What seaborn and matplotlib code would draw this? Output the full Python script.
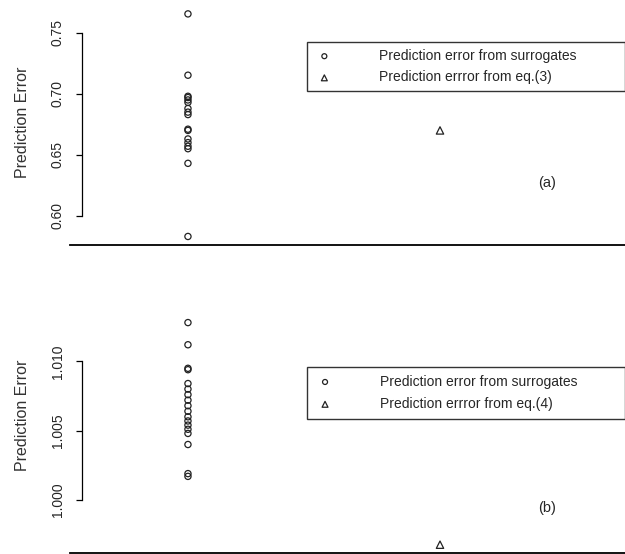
import matplotlib
matplotlib.use("Agg")
import matplotlib.pyplot as plt
import numpy as np
import pandas as pd
import seaborn as sns

# panel (a): prediction errors from surrogates and from eq.(3)
surr_a = [0.7656, 0.7153, 0.698, 0.697, 0.695, 0.693, 0.688, 0.685, 0.683,
          0.671, 0.670, 0.663, 0.660, 0.657, 0.655, 0.643, 0.583]
eq_a = [0.670]

# panel (b): prediction errors from surrogates and from eq.(4)
surr_b = [1.0128, 1.0112, 1.0095, 1.0094, 1.0084, 1.0080, 1.0076, 1.0072,
          1.0068, 1.0064, 1.0060, 1.0057, 1.0054, 1.0051, 1.0048, 1.0040,
          1.0019, 1.0017]
eq_b = [0.99677]

labels_a = ["Prediction error from surrogates", "Prediction errror from eq.(3)"]
labels_b = ["Prediction error from surrogates", "Prediction errror from eq.(4)"]

sns.set_style("white")
plt.rcParams["font.family"] = ["Liberation Sans", "DejaVu Sans"]
plt.rcParams["ytick.alignment"] = "center"

fig = plt.figure(figsize=(6.25, 5.54), dpi=100)
ax_a = fig.add_axes([0.112, 1 - 245 / 554, 0.888, 245 / 554])
ax_b = fig.add_axes([0.112, 1 - 553 / 554, 0.888, 276 / 554])


def panel(ax, surr, eq, labels, ylim, yticks, fmt, tag, tag_y, leg_top, bpad, lspace):
    df_s = pd.DataFrame({"x": 1, "y": surr})
    df_e = pd.DataFrame({"x": 2, "y": eq})
    sns.scatterplot(data=df_s, x="x", y="y", ax=ax, marker="o", s=20,
                    facecolor="none", edgecolor="#222222", linewidth=0.9,
                    label=labels[0])
    sns.scatterplot(data=df_e, x="x", y="y", ax=ax, marker="^", s=28,
                    facecolor="none", edgecolor="#222222", linewidth=0.9,
                    label=labels[1])
    ax.set_xlim(0.532, 2.734)
    ax.set_ylim(*ylim)
    ax.set_xticks([])
    ax.set_yticks(yticks)
    ax.set_yticklabels([fmt.format(t) for t in yticks], fontsize=9.5,
                       color="#333333")
    ax.tick_params(axis="y", left=True, length=4.5, width=0.9, pad=8,
                   color="black", labelrotation=90)
    ax.set_xlabel("")
    ax.set_ylabel("Prediction Error", fontsize=11.5, labelpad=15,
                  color="#333333")
    for s in ["top", "right"]:
        ax.spines[s].set_visible(False)
    ax.spines["left"].set_position(("data", 0.58))
    ax.spines["left"].set_bounds(yticks[0], yticks[-1])
    ax.spines["left"].set_linewidth(0.9)
    ax.spines["left"].set_color("black")
    ax.spines["bottom"].set_linewidth(1.3)
    ax.spines["bottom"].set_color("black")
    ax.text(2.425, tag_y, tag, fontsize=10.5, ha="center", va="center")
    leg = ax.legend(loc="upper left", bbox_to_anchor=(0.427, leg_top - 0.1, 0.573, 0.1),
                    mode="expand", frameon=True, fancybox=False, fontsize=10,
                    borderpad=bpad, handletextpad=3.2, labelspacing=lspace,
                    borderaxespad=0, markerscale=0.8, handlelength=1.5)
    leg.get_frame().set_edgecolor("black")
    leg.get_frame().set_linewidth(1.0)


panel(ax_a, surr_a, eq_a, labels_a, (0.576, 0.777), [0.60, 0.65, 0.70, 0.75],
      "{:.2f}", "(a)", 0.627, 0.829, 0.5, 0.55)
panel(ax_b, surr_b, eq_b, labels_b, (0.99617, 1.01609),
      [1.000, 1.005, 1.010], "{:.3f}", "(b)", 0.99944, 0.674, 0.55, 0.6)

fig.savefig("out.png", dpi=100)
